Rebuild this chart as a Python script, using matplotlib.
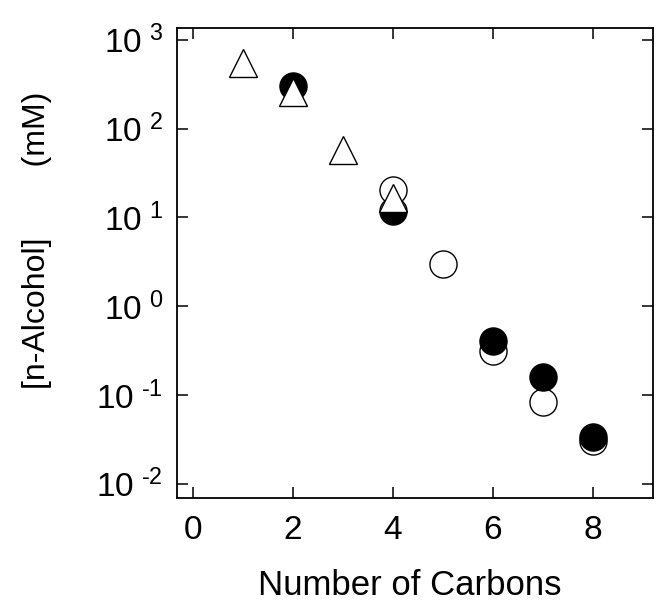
import math
import matplotlib.pyplot as plt
from matplotlib.ticker import FixedLocator, FuncFormatter, NullLocator

plt.rcParams['font.family'] = ['Liberation Sans', 'DejaVu Sans']
plt.rcParams['mathtext.fontset'] = 'custom'
plt.rcParams['mathtext.rm'] = 'Liberation Sans'

# open triangles
tri_x = [1, 2, 3, 4]
tri_y = [550, 260, 58, 16.5]
# open circles
open_x = [4, 5, 6, 7, 8]
open_y = [20.4, 3.0, 0.31, 0.084, 0.030]
# filled circles
fill_x = [2, 6, 7, 8]
fill_y = [300, 0.41, 0.158, 0.034]
# half-filled circle
half_x = [4]
half_y = [11.9]

x_ticks = [0, 2, 4, 6, 8]
y_ticks = [1e-2, 1e-1, 1e0, 1e1, 1e2, 1e3]

fig = plt.figure(figsize=(6.62, 6.05), dpi=100)
ax = fig.add_axes([0.267, 0.177, 0.719, 0.777])

ms = 19.5
ax.plot(open_x, open_y, 'o', ms=ms, mfc='white', mec='black', mew=1.0, zorder=2, ls='none')
ax.plot(half_x, half_y, 'o', ms=ms, fillstyle='bottom', mfc='black', mfcalt='white',
        mec='black', mew=1.0, zorder=1.5, ls='none')
ax.plot(fill_x, fill_y, 'o', ms=ms, mfc='black', mec='black', mew=1.0, zorder=3, ls='none')
ax.plot(tri_x, tri_y, '^', ms=ms, mfc='white', mec='black', mew=1.0, zorder=4, ls='none')

ax.set_yscale('log')
ax.set_xlim(-0.32, 9.2)
ax.set_ylim(10 ** -2.16, 10 ** 3.135)

ax.xaxis.set_major_locator(FixedLocator(x_ticks))
ax.yaxis.set_major_locator(FixedLocator(y_ticks))
ax.yaxis.set_minor_locator(NullLocator())
ax.xaxis.set_minor_locator(NullLocator())


def exp_fmt(v, pos):
    e = int(round(math.log10(v)))
    if e < 0:
        return r'$\mathregular{10^{\ \text{-}%d}}$' % (-e)
    return r'$\mathregular{10^{\ %d}}$' % e


ax.yaxis.set_major_formatter(FuncFormatter(exp_fmt))
ax.tick_params(direction='in', length=8, width=1.1, top=True, right=True, labelsize=24)
ax.tick_params(axis='x', pad=12)
ax.tick_params(axis='y', pad=10)

for s in ax.spines.values():
    s.set_linewidth(1.3)

ax.set_xlabel('Number of Carbons', fontsize=25)
ax.xaxis.set_label_coords(0.49, -0.152)
ax.set_ylabel('[n-Alcohol]' + ' ' * 8 + '(mM)', fontsize=23)
ax.yaxis.set_label_coords(-0.262, 0.549)

fig.savefig('out.png', dpi=100)
